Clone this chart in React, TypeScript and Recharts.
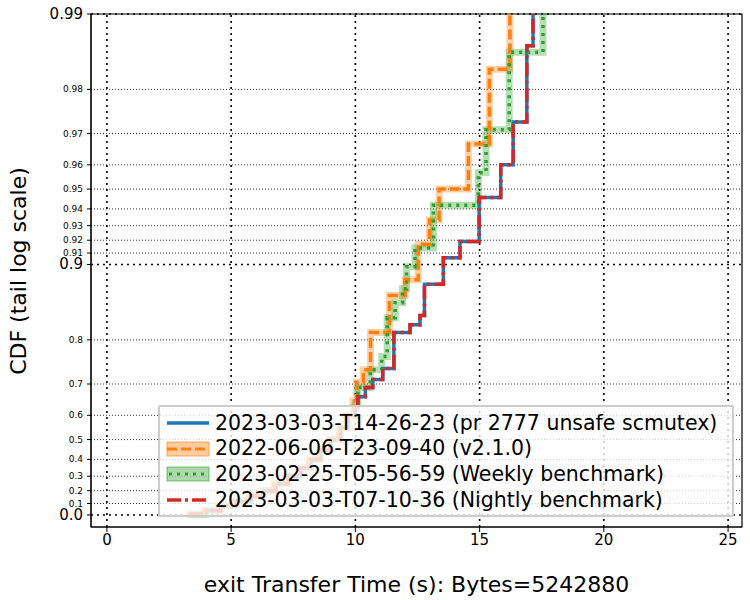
import React from "react";
import { LineChart, Line, XAxis, YAxis, ReferenceLine, ReferenceArea } from "recharts";

const redX = [3.3, 4.0, 4.6, 5.2, 5.8, 6.3, 6.8, 7.3, 7.8, 8.2, 8.6, 9.0, 9.4, 9.7, 10.0, 10.1, 10.4, 10.7, 11.1, 11.55, 12.2, 12.6, 12.78, 13.54, 14.21, 14.98, 15.85, 16.35, 16.9, 17.15];
const redP = [0.01, 0.04, 0.08, 0.12, 0.16, 0.2, 0.25, 0.3, 0.35, 0.4, 0.45, 0.5, 0.55, 0.6, 0.63, 0.663, 0.69, 0.712, 0.74, 0.813, 0.826, 0.84, 0.88, 0.906, 0.919, 0.946, 0.96, 0.973, 0.9866, 0.996];
const blueX = redX;
const blueP = redP;
const orangeX = [3.2, 3.9, 4.5, 5.1, 5.7, 6.2, 6.7, 7.2, 7.7, 8.1, 8.5, 8.9, 9.3, 9.6, 9.9, 10.05, 10.32, 10.61, 11.37, 12.0, 12.53, 12.98, 13.37, 14.55, 15.39, 16.22];
const orangeP = [0.01, 0.04, 0.08, 0.12, 0.16, 0.2, 0.25, 0.3, 0.35, 0.4, 0.45, 0.5, 0.55, 0.6, 0.65, 0.705, 0.737, 0.813, 0.867, 0.885, 0.917, 0.9335, 0.95, 0.967, 0.9834, 0.996];
const greenX = [3.3, 4.0, 4.6, 5.2, 5.8, 6.3, 6.8, 7.3, 7.8, 8.2, 8.6, 9.0, 9.4, 9.7, 10.0, 10.1, 10.6, 11.06, 11.28, 11.6, 11.9, 12.06, 12.4, 13.14, 14.95, 15.26, 16.19, 17.55];
const greenP = [0.01, 0.04, 0.08, 0.12, 0.16, 0.2, 0.25, 0.3, 0.35, 0.4, 0.45, 0.5, 0.55, 0.6, 0.64, 0.69, 0.737, 0.767, 0.837, 0.858, 0.875, 0.898, 0.914, 0.942, 0.957, 0.971, 0.9858, 0.996];

const xTicks = [0, 5, 10, 15, 20, 25];
const majorP = [0, 0.9, 0.99];
const minorP = [0.1, 0.2, 0.3, 0.4, 0.5, 0.6, 0.7, 0.8, 0.91, 0.92, 0.93, 0.94, 0.95, 0.96, 0.97, 0.98];
const majorLabels = ["0.0", "0.9", "0.99"];

const names = [
  "2023-03-03-T14-26-23 (pr 2777 unsafe scmutex)",
  "2022-06-06-T23-09-40 (v2.1.0)",
  "2023-02-25-T05-56-59 (Weekly benchmark)",
  "2023-03-03-T07-10-36 (Nightly benchmark)",
];

const tf = (p: number) => -Math.log10(1 - p);
const mk = (xs: number[], ps: number[]) => xs.map((x, i) => ({ x, y: tf(ps[i]) }));

const blue = mk(blueX, blueP);
const orange = mk(orangeX, orangeP);
const green = mk(greenX, greenP);
const red = mk(redX, redP);

const allTicks = [...majorP, ...minorP].map(tf).sort((a, b) => a - b);

const YTick = (props: any) => {
  const { x, y, payload } = props;
  const v = payload.value;
  const mi = majorP.findIndex((p) => Math.abs(tf(p) - v) < 1e-6);
  if (mi >= 0) {
    return (
      <text x={x - 2} y={y} dy={5} textAnchor="end" fontSize={15} fill="#000" fontFamily="DejaVu Sans">
        {majorLabels[mi]}
      </text>
    );
  }
  const p = minorP.find((p) => Math.abs(tf(p) - v) < 1e-6);
  return (
    <text x={x - 2} y={y} dy={3} textAnchor="end" fontSize={9} fill="#000" fontFamily="DejaVu Sans">
      {p !== undefined ? String(p) : ""}
    </text>
  );
};

const LegendBox = () => {
  const row = (icon: React.ReactNode, label: string, i: number) => (
    <div key={i} style={{ display: "flex", alignItems: "center", height: 25.7, whiteSpace: "nowrap" }}>
      <svg width={44} height={20} style={{ marginRight: 5, flexShrink: 0 }}>{icon}</svg>
      <span>{label}</span>
    </div>
  );
  return (
    <div style={{ position: "absolute", left: 158, top: 405, width: 558, height: 105, background: "rgba(255,255,255,0.8)", border: "2px solid #ccc", borderRadius: 2, padding: "3px 8px 0 6px", fontFamily: "DejaVu Sans", fontSize: 20.5, color: "#000", lineHeight: 1 }}>
      {row(<line x1={1} y1={10} x2={43} y2={10} stroke="#1f77b4" strokeWidth={3.5} />, names[0], 0)}
      {row(<g><rect x={1} y={3} width={42} height={14} fill="#ff7f0e" fillOpacity={0.4} stroke="#ff7f0e" strokeOpacity={0.6} /><line x1={1} y1={10} x2={43} y2={10} stroke="#ff7f0e" strokeWidth={3} strokeDasharray="10 4" /></g>, names[1], 1)}
      {row(<g><rect x={1} y={3} width={42} height={14} fill="#2ca02c" fillOpacity={0.4} stroke="#2ca02c" strokeOpacity={0.6} /><line x1={3} y1={10} x2={43} y2={10} stroke="#2ca02c" strokeWidth={3} strokeDasharray="3 5" /></g>, names[2], 2)}
      {row(<line x1={1} y1={10} x2={43} y2={10} stroke="#d62728" strokeWidth={3.5} strokeDasharray="14 4 3 4" />, names[3], 3)}
    </div>
  );
};

const YLabel = () => (
  <text x={26} y={271} transform="rotate(-90 26 271)" textAnchor="middle" fontSize={22} fill="#000" fontFamily="DejaVu Sans">
    CDF (tail log scale)
  </text>
);

export default function App() {
  return (
    <div style={{ position: "absolute", left: 0, top: 0, width: 750, height: 600, background: "#fff" }}>
      <LineChart width={750} height={600} margin={{ top: 14, right: 8, left: 0, bottom: 0 }}>
        <XAxis type="number" dataKey="x" domain={[-0.64, 25.56]} ticks={xTicks} allowDataOverflow
          tick={{ fontSize: 15, fill: "#000", fontFamily: "DejaVu Sans" }} tickSize={5} stroke="#000" height={73}
          label={{ value: "exit Transfer Time (s): Bytes=5242880", position: "insideBottom", offset: 8, fontSize: 22, fill: "#000", fontFamily: "DejaVu Sans" }} />
        <YAxis type="number" dataKey="y" domain={[-0.048, 2]} ticks={allTicks} allowDataOverflow interval={0}
          tick={<YTick />} tickSize={4} stroke="#000" width={91} label={<YLabel />} />
        {minorP.map((p) => (
          <ReferenceLine key={"m" + p} y={tf(p)} stroke="#000" strokeWidth={0.8} strokeDasharray="1 2" />
        ))}
        {majorP.map((p) => (
          <ReferenceLine key={"M" + p} y={tf(p)} stroke="#000" strokeWidth={1.6} strokeDasharray="2 4" />
        ))}
        {xTicks.map((t) => (
          <ReferenceLine key={"x" + t} x={t} stroke="#000" strokeWidth={1.6} strokeDasharray="2 4" />
        ))}
        <Line data={orange} dataKey="y" type="stepAfter" stroke="#ff7f0e" strokeOpacity={0.35} strokeWidth={7} dot={false} isAnimationActive={false} legendType="none" />
        <Line data={green} dataKey="y" type="stepAfter" stroke="#2ca02c" strokeOpacity={0.35} strokeWidth={7} dot={false} isAnimationActive={false} legendType="none" />
        <Line data={blue} dataKey="y" type="stepAfter" stroke="#1f77b4" strokeWidth={3.5} dot={false} isAnimationActive={false} />
        <Line data={orange} dataKey="y" type="stepAfter" stroke="#ff7f0e" strokeWidth={3.5} strokeDasharray="10 4" dot={false} isAnimationActive={false} />
        <Line data={green} dataKey="y" type="stepAfter" stroke="#2ca02c" strokeWidth={3.5} strokeDasharray="3 5" dot={false} isAnimationActive={false} />
        <Line data={red} dataKey="y" type="stepAfter" stroke="#d62728" strokeWidth={3.5} strokeDasharray="14 4 3 4" dot={false} isAnimationActive={false} />
        <ReferenceArea x1={-0.64} x2={25.56} y1={-0.048} y2={2} fill="none" stroke="#000" strokeWidth={1.2} ifOverflow="extendDomain" />
      </LineChart>
      <LegendBox />
    </div>
  );
}
